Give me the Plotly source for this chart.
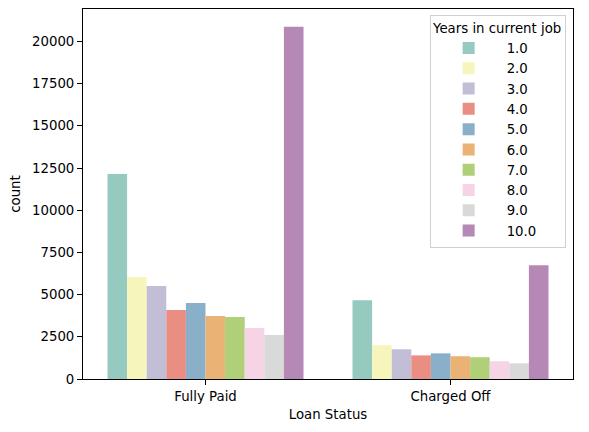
import colorsys
import plotly.graph_objects as go

# data
loan_status = ["Fully Paid", "Charged Off"]
years = ["1.0", "2.0", "3.0", "4.0", "5.0", "6.0", "7.0", "8.0", "9.0", "10.0"]
fully_paid = [12150, 6050, 5510, 4090, 4500, 3730, 3680, 3020, 2610, 20870]
charged_off = [4670, 2000, 1760, 1400, 1520, 1350, 1290, 1050, 930, 6740]

set3 = ["#8dd3c7", "#ffffb3", "#bebada", "#fb8072", "#80b1d3",
        "#fdb462", "#b3de69", "#fccde5", "#d9d9d9", "#bc80bd"]


# seaborn-style desaturation of the palette
def desaturate(hex_color, prop=0.75):
    r, g, b = (int(hex_color[i:i + 2], 16) / 255 for i in (1, 3, 5))
    h, l, s = colorsys.rgb_to_hls(r, g, b)
    r, g, b = colorsys.hls_to_rgb(h, l, s * prop)
    return "rgb(%d,%d,%d)" % (round(r * 255), round(g * 255), round(b * 255))


colors = [desaturate(c) for c in set3]
fs = 13.3

fig = go.Figure()
for i, yr in enumerate(years):
    fig.add_trace(go.Bar(
        name=yr,
        x=loan_status,
        y=[fully_paid[i], charged_off[i]],
        marker_color=colors[i],
        marker_line_width=0,
    ))

fig.update_layout(
    width=589, height=432,
    margin=dict(l=83, r=16, t=9, b=53),
    paper_bgcolor="white",
    plot_bgcolor="white",
    barmode="group",
    bargap=0.2,
    bargroupgap=0,
    font=dict(family="DejaVu Sans", size=fs, color="black"),
    legend=dict(
        title=dict(text="Years in current job", side="top center",
                   font=dict(size=fs)),
        x=0.985, y=0.985, xanchor="right", yanchor="top",
        bgcolor="white", bordercolor="#d0d0d0", borderwidth=1,
        font=dict(size=fs),
        tracegroupgap=0,
        itemwidth=66,
    ),
    showlegend=True,
)
fig.update_xaxes(
    title_text="Loan Status", title_standoff=6, title_font_size=fs,
    tickfont_size=fs,
    showline=True, linecolor="black", linewidth=1, mirror=True,
    ticks="outside", ticklen=5, tickcolor="black",
    range=[-0.5, 1.5], showgrid=False,
)
fig.update_yaxes(
    title_text="count", title_standoff=8, title_font_size=fs,
    tickfont_size=fs,
    range=[0, 21920], dtick=2500, tickformat="d",
    showline=True, linecolor="black", linewidth=1, mirror=True,
    ticks="outside", ticklen=5, tickcolor="black",
    showgrid=False, zeroline=False,
)

fig.write_html("out.html", config={"displayModeBar": False},
               post_script="document.body.style.margin='0';")
